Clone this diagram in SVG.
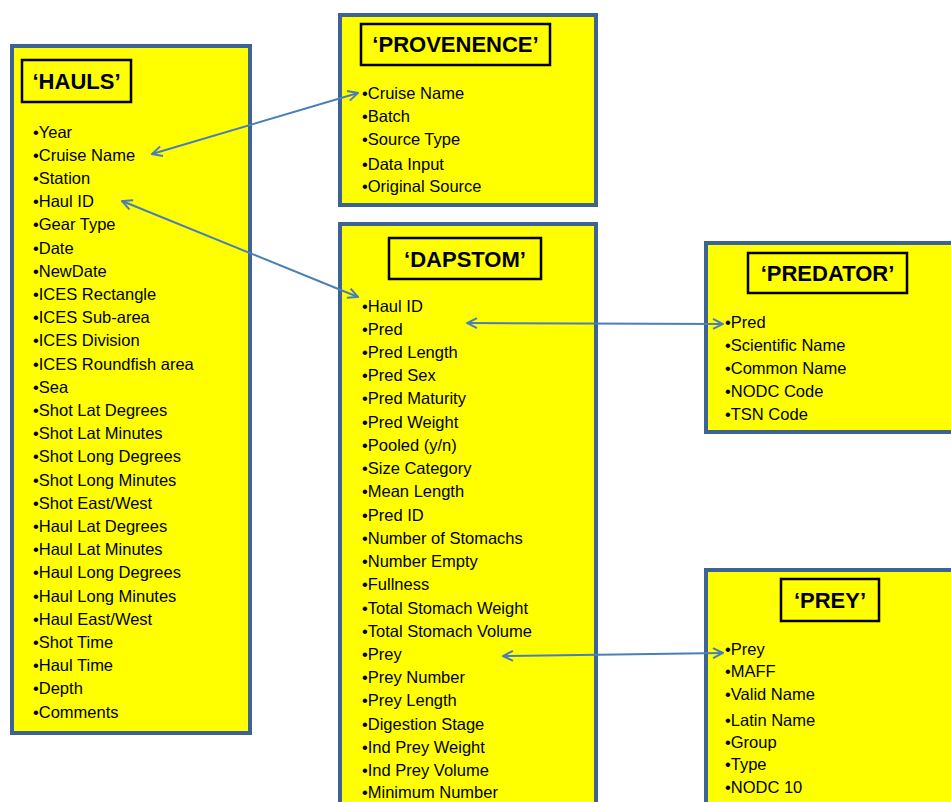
<svg xmlns="http://www.w3.org/2000/svg" width="951" height="802" viewBox="0 0 951 802">
<style>
.box{fill:#ffff00;stroke:#3d6394;stroke-width:4}
.title{fill:none;stroke:#000;stroke-width:2.5}
.tt{font-family:"Liberation Sans",Arial,sans-serif;font-weight:bold;font-size:22px;fill:#000;text-anchor:middle}
.it{font-family:"Liberation Sans",Arial,sans-serif;font-size:16.5px;fill:#000}
.conn{stroke:#4a7ebb;stroke-width:2;fill:none;marker-start:url(#ah);marker-end:url(#ah)}
</style>
<defs>
<marker id="ah" viewBox="0 0 12 12" refX="11" refY="6" markerWidth="12" markerHeight="12" markerUnits="userSpaceOnUse" orient="auto-start-reverse">
<path d="M1,1 L11,6 L1,11" fill="none" stroke="#4a7ebb" stroke-width="2"/>
</marker>
</defs>
<rect width="951" height="802" fill="#fff"/>
<g id="hauls">
<rect class="box" x="12" y="46" width="238" height="687"/>
<rect class="title" x="22" y="60" width="109" height="42"/>
<text class="tt" x="76.5" y="89">‘HAULS’</text>
<text class="it">
<tspan x="33" y="137.5">•Year</tspan>
<tspan x="33" y="160.7">•Cruise Name</tspan>
<tspan x="33" y="183.9">•Station</tspan>
<tspan x="33" y="207.1">•Haul ID</tspan>
<tspan x="33" y="230.3">•Gear Type</tspan>
<tspan x="33" y="253.5">•Date</tspan>
<tspan x="33" y="276.7">•NewDate</tspan>
<tspan x="33" y="299.9">•ICES Rectangle</tspan>
<tspan x="33" y="323.1">•ICES Sub-area</tspan>
<tspan x="33" y="346.3">•ICES Division</tspan>
<tspan x="33" y="369.5">•ICES Roundfish area</tspan>
<tspan x="33" y="392.7">•Sea</tspan>
<tspan x="33" y="415.9">•Shot Lat Degrees</tspan>
<tspan x="33" y="439.1">•Shot Lat Minutes</tspan>
<tspan x="33" y="462.3">•Shot Long Degrees</tspan>
<tspan x="33" y="485.5">•Shot Long Minutes</tspan>
<tspan x="33" y="508.7">•Shot East/West</tspan>
<tspan x="33" y="531.9">•Haul Lat Degrees</tspan>
<tspan x="33" y="555.1">•Haul Lat Minutes</tspan>
<tspan x="33" y="578.3">•Haul Long Degrees</tspan>
<tspan x="33" y="601.5">•Haul Long Minutes</tspan>
<tspan x="33" y="624.7">•Haul East/West</tspan>
<tspan x="33" y="647.9">•Shot Time</tspan>
<tspan x="33" y="671.1">•Haul Time</tspan>
<tspan x="33" y="694.3">•Depth</tspan>
<tspan x="33" y="717.5">•Comments</tspan>
</text>
</g>
<g id="provenence">
<rect class="box" x="340" y="15" width="256" height="190"/>
<rect class="title" x="361" y="24" width="189" height="41"/>
<text class="tt" x="455.5" y="52">‘PROVENENCE’</text>
<text class="it">
<tspan x="362" y="99">•Cruise Name</tspan>
<tspan x="362" y="122">•Batch</tspan>
<tspan x="362" y="145">•Source Type</tspan>
<tspan x="362" y="170">•Data Input</tspan>
<tspan x="362" y="192">•Original Source</tspan>
</text>
</g>
<g id="dapstom">
<rect class="box" x="340" y="224" width="256" height="600"/>
<rect class="title" x="389" y="238" width="152" height="41"/>
<text class="tt" x="465" y="267">‘DAPSTOM’</text>
<text class="it">
<tspan x="362" y="312">•Haul ID</tspan>
<tspan x="362" y="335">•Pred</tspan>
<tspan x="362" y="358">•Pred Length</tspan>
<tspan x="362" y="381">•Pred Sex</tspan>
<tspan x="362" y="404">•Pred Maturity</tspan>
<tspan x="362" y="428">•Pred Weight</tspan>
<tspan x="362" y="451">•Pooled (y/n)</tspan>
<tspan x="362" y="474">•Size Category</tspan>
<tspan x="362" y="497">•Mean Length</tspan>
<tspan x="362" y="521">•Pred ID</tspan>
<tspan x="362" y="544">•Number of Stomachs</tspan>
<tspan x="362" y="567">•Number Empty</tspan>
<tspan x="362" y="590">•Fullness</tspan>
<tspan x="362" y="614">•Total Stomach Weight</tspan>
<tspan x="362" y="637">•Total Stomach Volume</tspan>
<tspan x="362" y="660">•Prey</tspan>
<tspan x="362" y="683">•Prey Number</tspan>
<tspan x="362" y="706">•Prey Length</tspan>
<tspan x="362" y="730">•Digestion Stage</tspan>
<tspan x="362" y="753">•Ind Prey Weight</tspan>
<tspan x="362" y="776">•Ind Prey Volume</tspan>
<tspan x="362" y="798">•Minimum Number</tspan>
</text>
</g>
<g id="predator">
<rect class="box" x="706" y="243" width="260" height="189"/>
<rect class="title" x="748" y="253" width="159" height="40"/>
<text class="tt" x="827.5" y="281">‘PREDATOR’</text>
<text class="it">
<tspan x="725" y="328">•Pred</tspan>
<tspan x="725" y="351">•Scientific Name</tspan>
<tspan x="725" y="374">•Common Name</tspan>
<tspan x="725" y="397">•NODC Code</tspan>
<tspan x="725" y="420">•TSN Code</tspan>
</text>
</g>
<g id="prey">
<rect class="box" x="706" y="570" width="260" height="260"/>
<rect class="title" x="781" y="579" width="98" height="42"/>
<text class="tt" x="830" y="608">‘PREY’</text>
<text class="it">
<tspan x="725" y="655">•Prey</tspan>
<tspan x="725" y="677">•MAFF</tspan>
<tspan x="725" y="700">•Valid Name</tspan>
<tspan x="725" y="726">•Latin Name</tspan>
<tspan x="725" y="748">•Group</tspan>
<tspan x="725" y="770">•Type</tspan>
<tspan x="725" y="793">•NODC 10</tspan>
</text>
</g>
<g id="connectors">
<line class="conn" x1="152" y1="154" x2="358" y2="93"/>
<line class="conn" x1="122" y1="201" x2="358" y2="297"/>
<line class="conn" x1="467" y1="323" x2="723" y2="324"/>
<line class="conn" x1="503" y1="656" x2="723" y2="653"/>
</g>
</svg>
